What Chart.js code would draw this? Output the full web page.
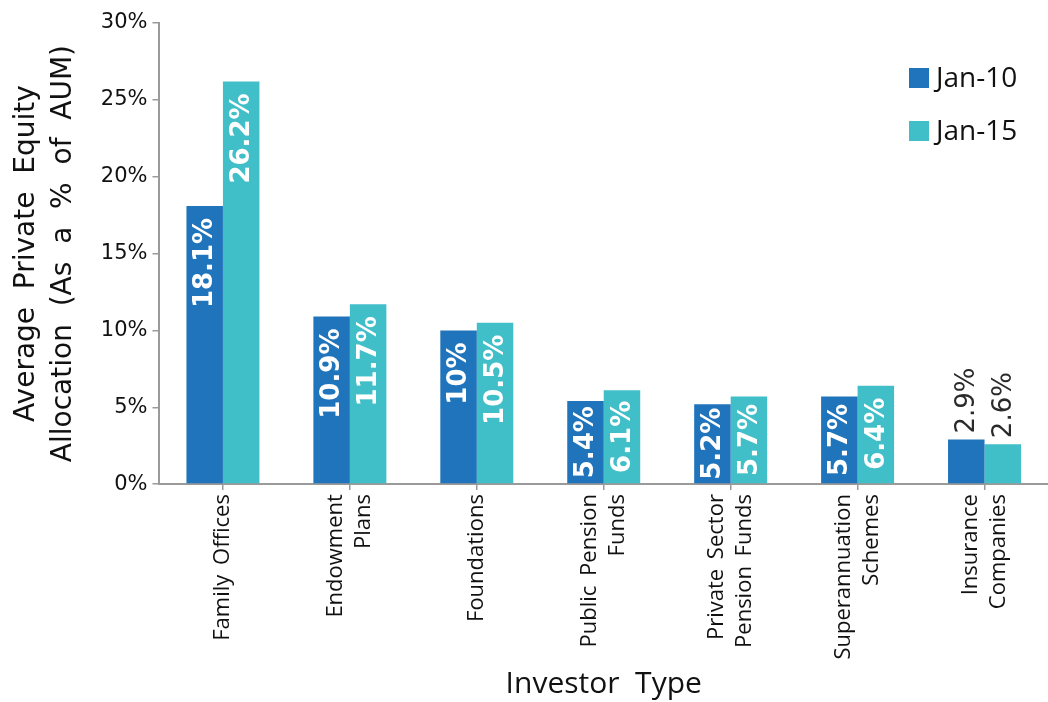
<!DOCTYPE html>
<html><head><meta charset="utf-8">
<script src="https://cdn.jsdelivr.net/npm/chart.js@4.4.1/dist/chart.umd.min.js"></script>
<style>html,body{margin:0;padding:0;background:#fff;}</style>
</head><body>
<canvas id="c" width="1048" height="702"></canvas>
<script>
const categories = [["Family Offices"],["Endowment","Plans"],["Foundations"],["Public Pension","Funds"],["Private Sector","Pension Funds"],["Superannuation","Schemes"],["Insurance","Companies"]];
const seriesNames = ["Jan-10","Jan-15"];
const jan10 = [18.1,10.9,10,5.4,5.2,5.7,2.9];
const jan15 = [26.2,11.7,10.5,6.1,5.7,6.4,2.6];
const yMin = 0, yMax = 30, yStep = 5;
const seriesColors = ['#1F74BB','#41BFC8'];
const yTitle = ["Average  Private  Equity","Allocation  (As  a  %  of  AUM)"];
const xTitle = "Investor  Type";

const valueLabels = {
  id:'valueLabels',
  afterDatasetsDraw(chart){
    const ctx = chart.ctx;
    chart.data.datasets.forEach((ds,di)=>{
      const meta = chart.getDatasetMeta(di);
      meta.data.forEach((bar,i)=>{
        const txt = ds.data[i] + '%';
        ctx.save();
        ctx.translate(bar.x, bar.y);
        ctx.rotate(-Math.PI/2);
        ctx.textBaseline = 'middle';
        ctx.font = 'bold 26px "DejaVu Sans"';
        const w = ctx.measureText(txt).width;
        const len = bar.base - bar.y;
        if (len > w + 2) {
          const pad = Math.min(12, (len - w)/2);
          ctx.fillStyle = '#ffffff';
          ctx.textAlign = 'right';
          ctx.fillText(txt, -pad, 1);
        } else {
          ctx.font = '26px "DejaVu Sans"';
          ctx.fillStyle = '#2a2a2a';
          ctx.textAlign = 'left';
          ctx.fillText(txt, 6, 1);
        }
        ctx.restore();
      });
    });
  }
};

const customLegend = {
  id:'customLegend',
  afterDraw(chart){
    const ctx = chart.ctx;
    const ca = chart.chartArea;
    ctx.save();
    chart.data.datasets.forEach((ds,i)=>{
      const cy = ca.top + 55 + i*53;
      const bx = ca.right - 139;
      ctx.fillStyle = ds.backgroundColor;
      ctx.fillRect(bx, cy - 10, 20, 20);
      ctx.fillStyle = '#111';
      ctx.font = '28px "Open Sans"';
      ctx.textBaseline = 'middle';
      ctx.textAlign = 'left';
      ctx.fillText(ds.label, bx + 27, cy + 1);
    });
    ctx.restore();
  }
};

const xLabels = {
  id:'xLabels',
  afterDraw(chart){
    const ctx = chart.ctx;
    const sx = chart.scales.x;
    const lh = 28;
    ctx.save();
    ctx.font = '22px "Open Sans"';
    ctx.fillStyle = '#111';
    ctx.textAlign = 'right';
    ctx.textBaseline = 'middle';
    try { ctx.wordSpacing = '4px'; } catch(e) {}
    sx.ticks.forEach((t,i)=>{
      const lines = categories[i];
      const px = sx.getPixelForTick(i);
      lines.forEach((ln,j)=>{
        ctx.save();
        ctx.translate(px + (j - (lines.length-1)/2)*lh, sx.top + 10);
        ctx.rotate(-Math.PI/2);
        ctx.fillText(ln, 0, 0);
        ctx.restore();
      });
    });
    ctx.restore();
  }
};

new Chart(document.getElementById('c'), {
  type:'bar',
  data:{
    labels: categories,
    datasets:[
      {label: seriesNames[0], data: jan10, backgroundColor: seriesColors[0], borderWidth:0},
      {label: seriesNames[1], data: jan15, backgroundColor: seriesColors[1], borderWidth:0}
    ]
  },
  options:{
    responsive:false,
    animation:false,
    events:[],
    layout:{padding:{left:9, right:0, top:23, bottom:0}},
    plugins:{legend:{display:false}, tooltip:{enabled:false}},
    datasets:{bar:{categoryPercentage:0.575, barPercentage:1}},
    scales:{
      x:{
        grid:{offset:false, drawOnChartArea:false, drawTicks:true, tickLength:6, color:'#9a9a9a', lineWidth:1.5},
        border:{display:true, color:'#9a9a9a', width:2},
        ticks:{autoSkip:false, maxRotation:90, minRotation:90, color:'rgba(0,0,0,0)', font:{family:'Open Sans', size:21}, padding:4},
        title:{display:true, text:xTitle, color:'#111', font:{family:'Open Sans', size:30}, padding:{top:10,bottom:0}}
      },
      y:{
        min:yMin, max:yMax,
        grid:{drawOnChartArea:false, drawTicks:true, tickLength:7, color:'#9a9a9a', lineWidth:1.5},
        border:{display:true, color:'#9a9a9a', width:2},
        ticks:{stepSize:yStep, color:'#111', font:{family:'DejaVu Sans', size:21}, padding:5, callback:v=>v+'%'},
        title:{display:true, text:yTitle, color:'#111', font:{family:'DejaVu Sans', size:28, lineHeight:1.3}, padding:{top:0,bottom:14}}
      }
    }
  },
  plugins:[valueLabels, customLegend, xLabels]
});
</script>
</body></html>
